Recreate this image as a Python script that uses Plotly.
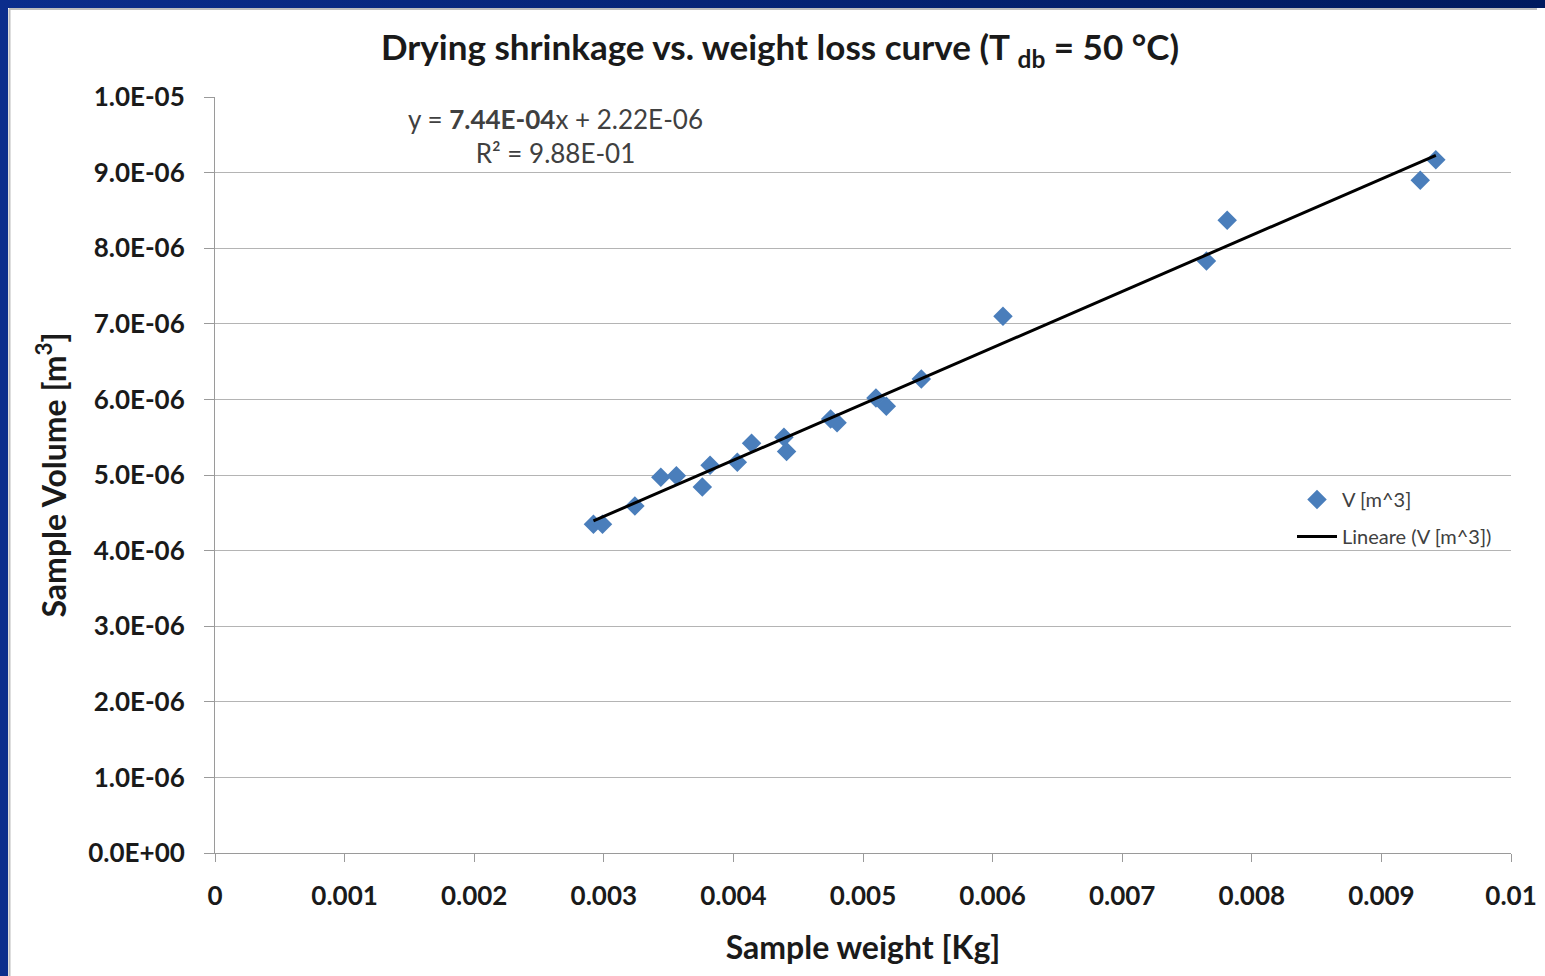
import plotly.graph_objects as go

# data
weight_kg = [0.00292, 0.00299, 0.00324, 0.00344, 0.00356, 0.00376, 0.00382, 0.00403,
             0.00414, 0.00439, 0.00441, 0.00475, 0.00480, 0.00510, 0.00518, 0.00545,
             0.00608, 0.00765, 0.00781, 0.00930, 0.00942]
volume_m3 = [4.35e-6, 4.35e-6, 4.59e-6, 4.97e-6, 4.99e-6, 4.84e-6, 5.13e-6, 5.17e-6,
             5.42e-6, 5.50e-6, 5.31e-6, 5.74e-6, 5.69e-6, 6.02e-6, 5.91e-6, 6.27e-6,
             7.10e-6, 7.83e-6, 8.37e-6, 8.90e-6, 9.17e-6]
slope = 7.44e-4
intercept = 2.22e-6

x_ticks = [0, 0.001, 0.002, 0.003, 0.004, 0.005, 0.006, 0.007, 0.008, 0.009, 0.01]
x_tick_labels = ["0", "0.001", "0.002", "0.003", "0.004", "0.005", "0.006", "0.007",
                 "0.008", "0.009", "0.01"]
y_ticks = [0, 1e-6, 2e-6, 3e-6, 4e-6, 5e-6, 6e-6, 7e-6, 8e-6, 9e-6, 1e-5]
y_tick_labels = ["0.0E+00", "1.0E-06", "2.0E-06", "3.0E-06", "4.0E-06", "5.0E-06",
                 "6.0E-06", "7.0E-06", "8.0E-06", "9.0E-06", "1.0E-05"]

FONT = "Lato"
OFF = 8  # page body margin
W, H = 1545, 976
L, T = 215 - OFF, 97 - OFF
R = W - (1511 - OFF)
B = H - (853 - OFF)
PW, PH = W - L - R, H - T - B


def px(xp):
    """page x pixel -> paper coordinate"""
    return (xp - OFF - L) / PW


def py(yp):
    """page y pixel -> paper coordinate"""
    return (H - B - (yp - OFF)) / PH


trend_x = [min(weight_kg), max(weight_kg)]
trend_y = [slope * v + intercept for v in trend_x]

fig = go.Figure()
fig.add_trace(go.Scatter(
    x=weight_kg, y=volume_m3, mode="markers", name="V [m^3]",
    marker=dict(symbol="diamond", size=15, color="#4a7ebb"),
    legendgroup="a"))
fig.add_trace(go.Scatter(
    x=trend_x, y=trend_y, mode="lines", name="Lineare (V [m^3])",
    line=dict(color="black", width=3), legendgroup="b"))

axis_common = dict(showline=True, linecolor="#9a9a9a", linewidth=1,
                   ticks="outside", tickcolor="#9a9a9a", tickwidth=1,
                   tickfont=dict(family=FONT, size=26, color="#1a1a1a", weight="bold"),
                   zeroline=False)

fig.update_xaxes(range=[0, 0.01], tickvals=x_ticks, ticktext=x_tick_labels,
                 showgrid=False, ticklen=8, ticklabelstandoff=12,
                 title=dict(text="Sample weight [Kg]", standoff=26,
                            font=dict(family=FONT, size=32, color="#1a1a1a", weight="bold")),
                 **axis_common)
fig.update_yaxes(range=[0, 1e-5], tickvals=y_ticks, ticktext=y_tick_labels,
                 showgrid=True, gridcolor="#b4b4b4", gridwidth=1.2, ticklen=10,
                 ticklabelstandoff=14,
                 title=dict(text="Sample Volume [m<sup>3</sup>]", standoff=12,
                            font=dict(family=FONT, size=32, color="#1a1a1a", weight="bold")),
                 **axis_common)

fig.update_layout(
    width=W, height=H,
    margin=dict(l=L, r=R, t=T, b=B, autoexpand=False),
    paper_bgcolor="white", plot_bgcolor="white",
    title=dict(text="Drying shrinkage vs. weight loss curve (T <sub>db</sub> = 50 °C)",
               x=(780 - OFF) / W, xanchor="center", y=1 - (48 - OFF) / H, yanchor="middle",
               font=dict(family=FONT, size=35, color="#1a1a1a", weight="bold")),
    showlegend=True,
    legend=dict(x=px(1292), y=py(480), xanchor="left", yanchor="top",
                bgcolor="rgba(0,0,0,0)", traceorder="grouped", tracegroupgap=8,
                itemwidth=40,
                font=dict(family=FONT, size=20, color="#404040")),
    shapes=[
        dict(type="line", xref="paper", yref="paper", x0=px(9), x1=px(1560),
             y0=py(9), y1=py(9), line=dict(color="#bdbdbd", width=2), layer="above"),
        dict(type="line", xref="paper", yref="paper", x0=px(9.5), x1=px(9.5),
             y0=py(9), y1=py(990), line=dict(color="#bdbdbd", width=2), layer="above"),
    ],
    annotations=[
        dict(text="y = <b>7.44E-04</b>x + 2.22E-06<br>R² = 9.88E-01",
             xref="paper", yref="paper", x=px(555), y=py(136), xanchor="center",
             yanchor="middle", showarrow=False, align="center",
             font=dict(family=FONT, size=26, color="#404040")),
    ],
)

# dark blue frame only along the top and left page margins, as in the slide
frame_css = ("linear-gradient(to right,#0b2d8c,#001a5e) top left/100% 8px no-repeat,"
             "linear-gradient(#0b2d8c,#0b2d8c) top left/8px 100% no-repeat,#ffffff")
fig.write_html("out.html",
               post_script="document.body.style.background='" + frame_css + "';")
